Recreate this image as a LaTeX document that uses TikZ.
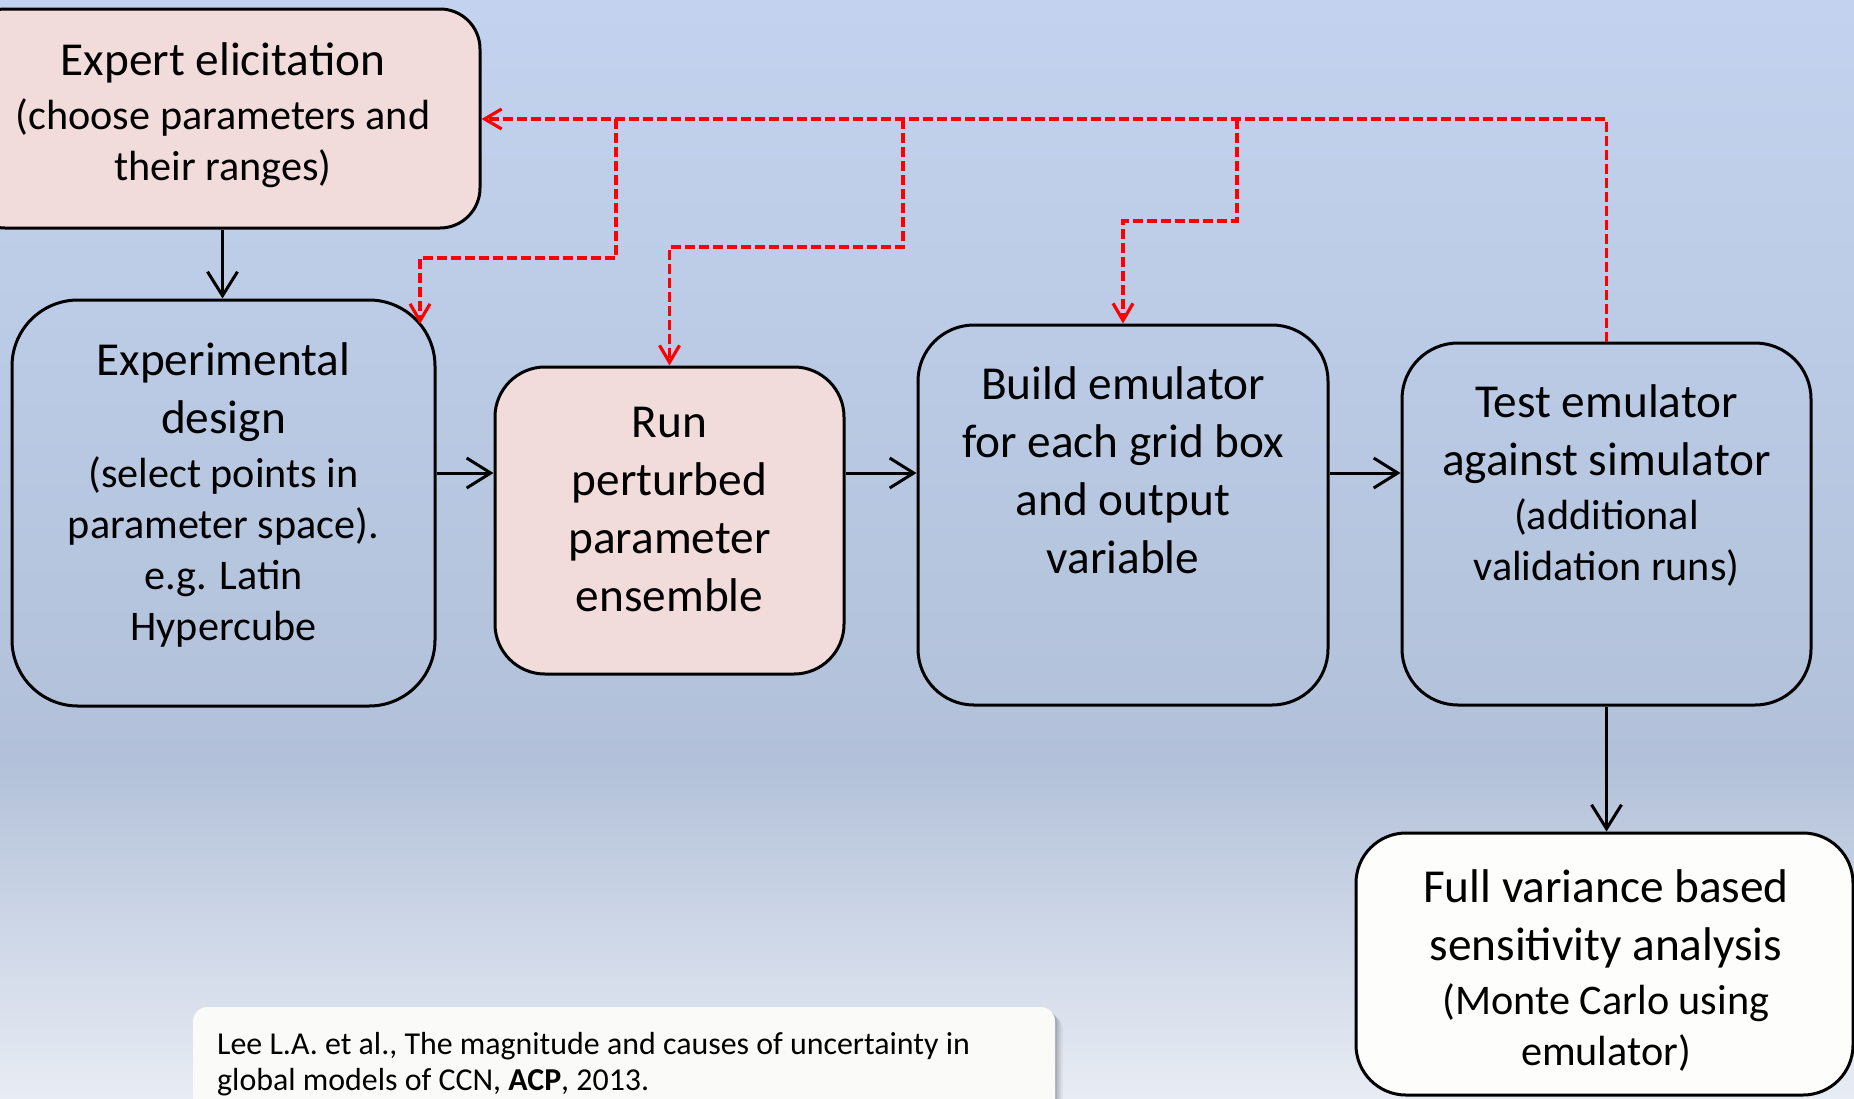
\documentclass[tikz,border=0pt]{standalone}
\usepackage{fontspec}
\setmainfont{Carlito}
\usetikzlibrary{arrows.meta,calc}
\definecolor{bgtop}{HTML}{C3D3EF}
\definecolor{bgmid}{HTML}{B2C1D9}
\definecolor{bgbot}{HTML}{E8ECF4}
\definecolor{pinkfill}{HTML}{F2DCDB}
\definecolor{whitefill}{HTML}{FDFDFC}
\definecolor{notefill}{HTML}{FAFAF8}
\definecolor{fbred}{HTML}{FF0000}
\newcommand\lgtxt{\fontsize{47.3pt}{58pt}\selectfont}
\newcommand\smtxt{\fontsize{42.2pt}{51pt}\selectfont}
\newcommand\notetxt{\fontsize{31.9pt}{36pt}\selectfont}
\newcommand\lgstrut{\rule{0pt}{40pt}}
\newcommand\notestrut{\rule{0pt}{27pt}}
\tikzset{
  stage/.style={draw=black, line width=3pt, rectangle, inner sep=0pt},
  stagetext/.style={anchor=north, align=center, inner sep=0pt, font=\lgtxt, text=black},
  flow/.style={draw=black, line width=3pt, -{Straight Barb[length=24pt,width=30pt]}},
  feedback/.style={draw=fbred, line width=3.2pt, dash pattern=on 10pt off 4pt,
    -{Straight Barb[length=17pt,width=20pt]}},
}
\begin{document}
\begin{tikzpicture}[x=1pt,y=-1pt]
\useasboundingbox (0,0) rectangle (1854,1098);
\clip (0,0) rectangle (1854,1098);

% slide background
\shade[top color=bgtop, bottom color=bgmid] (0,0) rectangle (1854,760);
\shade[top color=bgmid, bottom color=bgbot] (0,759) rectangle (1854,1098);

% stages
\node[stage, fill=pinkfill, rounded corners=40pt, minimum width=515pt, minimum height=219pt] (expert) at (222.5,118.5) {};
\node[stage, rounded corners=66pt, minimum width=423pt, minimum height=406pt] (exp) at (223.5,503) {};
\node[stage, fill=pinkfill, rounded corners=50pt, minimum width=349pt, minimum height=307pt] (run) at (669.5,520.5) {};
\node[stage, rounded corners=56pt, minimum width=410pt, minimum height=380pt] (build) at (1123,515) {};
\node[stage, rounded corners=56pt, minimum width=409pt, minimum height=362pt] (test) at (1606.5,524) {};
\node[stage, fill=whitefill, rounded corners=50pt, minimum width=497pt, minimum height=262pt] (full) at (1604.5,964) {};

% stage texts
\node[stagetext] (experttext) at (223,35) {\lgstrut Expert elicitation\\[-4pt]
  {\smtxt (choose parameters and}\\[-7pt] {\smtxt their ranges)}};
\node[stagetext] (exptext) at (223.5,335.5) {\lgstrut Experimental\\ design\\[-4pt]
  {\smtxt (select points in}\\[-7pt] {\smtxt parameter space).}\\[-7pt]
  {\smtxt e.g. Latin}\\[-7pt] {\smtxt Hypercube}};
\node[stagetext] (runtext) at (669.5,397) {\lgstrut Run\\ perturbed\\ parameter\\ ensemble};
\node[stagetext] (buildtext) at (1123,359) {\lgstrut Build emulator\\ for each grid box\\ and output\\ variable};
\node[stagetext] (testtext) at (1606.5,377) {\lgstrut Test emulator\\ against simulator\\[-4pt]
  {\smtxt (additional}\\[-7pt] {\smtxt validation runs)}};
\node[stagetext] (fulltext) at (1606,862) {\lgstrut Full variance based\\ sensitivity analysis\\[-4pt]
  {\smtxt (Monte Carlo using}\\[-7pt] {\smtxt emulator)}};

% main flow
\coordinate (row) at (0,473);
\draw[flow] (expert.south) -- (expert.south |- exp.north);
\draw[flow] (exp.east |- row) -- (run.west |- row);
\draw[flow] (run.east |- row) -- (build.west |- row);
\draw[flow] (build.east |- row) -- (test.west |- row);
\draw[flow] (test.south) -- (test.south |- full.north);

% feedback loops
\coordinate (fbtop) at (0,119);
\coordinate (j1) at (616,119);
\coordinate (j2) at (903,119);
\coordinate (j3) at (1237,119);
\coordinate (k1) at (420,258);
\coordinate (b1end) at (420,324);
\coordinate (k2) at (0,247);
\coordinate (k3) at (0,221);
\draw[feedback] (test.north) -- (test.north |- fbtop) -- (expert.east |- fbtop);
\draw[feedback] (j1) |- (k1) -- (b1end);
\draw[feedback] (j2) |- (run.north |- k2) -- (run.north);
\draw[feedback] (j3) |- (build.north |- k3) -- (build.north);

% reference note
\foreach \d/\o in {8/0.04,6/0.06,4/0.08,2/0.1}
  \fill[black, opacity=\o, rounded corners=14pt] (193+\d,1007+\d) rectangle (1055+\d,1130);
\fill[notefill, rounded corners=14pt] (193,1007) rectangle (1055,1130);
\node[anchor=north west, align=left, inner sep=0pt, font=\notetxt] (notetext) at (217,1027)
  {\notestrut Lee L.A. et al., The magnitude and causes of uncertainty in\\
   global models of CCN, \textbf{ACP}, 2013.};
\end{tikzpicture}
\end{document}
